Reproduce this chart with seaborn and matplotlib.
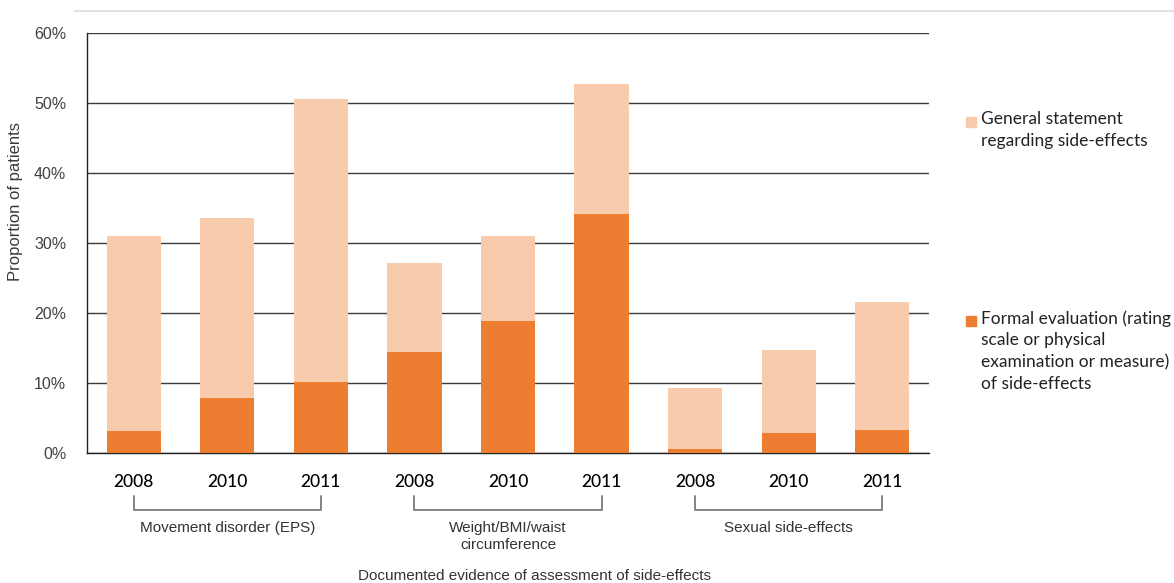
import matplotlib
matplotlib.use("Agg")
import matplotlib.pyplot as plt
from matplotlib.lines import Line2D
from matplotlib.patches import Rectangle
from matplotlib.ticker import FixedLocator, PercentFormatter
import seaborn as sns
import pandas as pd

# Assessment areas and audit years
groups = ["Movement disorder (EPS)", "Weight/BMI/waist\ncircumference", "Sexual side-effects"]
years = ["2008", "2010", "2011"]

# Percent of patients (bar top = any documented evidence)
formal_pct = [3.2, 7.8, 10.2, 14.4, 18.9, 34.1, 0.6, 2.9, 3.3]
total_pct = [31.0, 33.6, 50.6, 27.1, 31.0, 52.7, 9.3, 14.7, 21.6]

legend_general = "General statement\nregarding side-effects"
legend_formal = "Formal evaluation (rating\nscale or physical\nexamination or measure)\nof side-effects"
y_label = "Proportion of patients"
x_label = "Documented evidence of assessment of side-effects"

light = "#F8CBAD"
dark = "#ED7D31"

keys = [f"{g}|{y}" for g in groups for y in years]
df = pd.DataFrame({"key": keys, "formal": formal_pct, "total": total_pct})

sns.set_style("white")
plt.rcParams["font.family"] = ["Liberation Sans", "DejaVu Sans"]

W, H = 1174, 583
fig = plt.figure(figsize=(W / 100, H / 100), dpi=100)
ax = fig.add_axes([87 / W, 1 - 453 / H, 842 / W, 420 / H])

sns.barplot(data=df, x="key", y="total", color=light, width=0.58,
            saturation=1, ax=ax, zorder=3, linewidth=0)
sns.barplot(data=df, x="key", y="formal", color=dark, width=0.58,
            saturation=1, ax=ax, zorder=4, linewidth=0)

ax.set_xlim(-0.5, len(keys) - 0.5)
ax.set_ylim(0, 60)
ax.yaxis.set_major_locator(FixedLocator(range(0, 61, 10)))
ax.yaxis.set_major_formatter(PercentFormatter(decimals=0))
ax.grid(axis="y", color="#3a3a3a", linewidth=1.0, zorder=1)
ax.set_axisbelow(True)

for s in ["top", "right"]:
    ax.spines[s].set_visible(False)
for s in ["left", "bottom"]:
    ax.spines[s].set_color("#222222")
    ax.spines[s].set_linewidth(1.0)

ax.tick_params(axis="y", length=7, width=1.0, color="#3a3a3a",
               labelsize=11.5, labelcolor="#404040", pad=8)

# year labels at bar centres, tick marks at category boundaries
ax.set_xticks(range(len(keys)))
ax.set_xticklabels(years * len(groups), family=["Lato", "DejaVu Sans"],
                   fontsize=12.5, color="#000000", fontweight="medium")
ax.tick_params(axis="x", which="major", length=0, pad=15)
ax.set_xticks([i - 0.5 for i in range(len(keys) + 1)], minor=True)
ax.tick_params(axis="x", which="minor", length=6, width=1.0, color="#222222")

ax.set_xlabel("")
ax.set_ylabel(y_label, fontsize=12, color="#3a3a3a")
ax.yaxis.set_label_coords(-0.076, 0.598)

# group brackets under the year labels
trans = ax.get_xaxis_transform()
for gi, g in enumerate(groups):
    x0, x1 = gi * 3, gi * 3 + 2
    y_top, y_bot = -0.102, -0.135
    ax.add_line(Line2D([x0, x0, x1, x1], [y_top, y_bot, y_bot, y_top],
                       transform=trans, color="#7a7a7a", linewidth=1.3,
                       clip_on=False))
    ax.text((x0 + x1) / 2, -0.162, g, transform=trans, ha="center", va="top",
            fontsize=11, color="#333333", linespacing=1.25)

fig.text(535 / W, 1 - 576 / H, x_label, ha="center", va="center",
         fontsize=11, color="#333333")

# light rule across the top
fig.add_artist(Line2D([74 / W, 1.0], [1 - 11 / H, 1 - 11 / H],
                      transform=fig.transFigure, color="#dddddd", linewidth=1.2))

# legend: swatch aligned with the first text line
def legend_entry(y_px, color, label):
    fig.add_artist(Rectangle((966 / W, 1 - (y_px + 6) / H), 10 / W, 10 / H,
                             transform=fig.transFigure, color=color))
    fig.text(981 / W, 1 - (y_px - 10) / H, label, ha="left", va="top",
             family=["Lato", "DejaVu Sans"], fontsize=12.5, color="#222222",
             linespacing=1.45)

legend_entry(121, light, legend_general)
legend_entry(320, dark, legend_formal)

fig.savefig("out.png", dpi=100)
